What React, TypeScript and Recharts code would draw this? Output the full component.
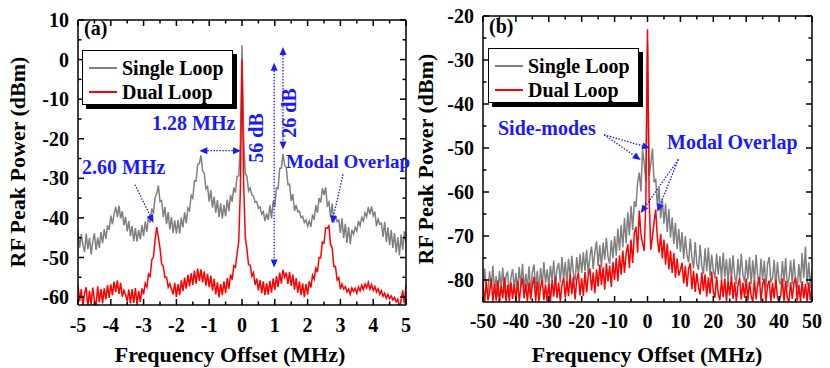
import { LineChart, Line, XAxis, YAxis, Legend, ReferenceLine } from 'recharts';

const SERIF = '"Liberation Serif", "Times New Roman", serif';
const BLUE = '#1a1aff';
const GREY = '#808080';
const RED = '#ff0000';

// ---- panel (a): offset -5..5 MHz ----
const freqA = [
  -5, -4.95, -4.9, -4.85, -4.8, -4.75, -4.7, -4.65, -4.6, -4.55, -4.5, -4.45, -4.4, -4.35, -4.3, -4.25, -4.2, -4.15, -4.1, -4.05,
  -4, -3.95, -3.9, -3.85, -3.8, -3.75, -3.7, -3.65, -3.6, -3.55, -3.5, -3.45, -3.4, -3.35, -3.3, -3.25, -3.2, -3.15, -3.1, -3.05,
  -3, -2.95, -2.9, -2.85, -2.8, -2.75, -2.7, -2.65, -2.6, -2.55, -2.5, -2.45, -2.4, -2.35, -2.3, -2.25, -2.2, -2.15, -2.1, -2.05,
  -2, -1.95, -1.9, -1.85, -1.8, -1.75, -1.7, -1.65, -1.6, -1.55, -1.5, -1.45, -1.4, -1.35, -1.3, -1.25, -1.2, -1.15, -1.1, -1.05,
  -1, -0.95, -0.9, -0.85, -0.8, -0.75, -0.7, -0.65, -0.6, -0.55, -0.5, -0.45, -0.4, -0.35, -0.3, -0.25, -0.2, -0.15, -0.1, -0.05,
  0,
  0.05, 0.1, 0.15, 0.2, 0.25, 0.3, 0.35, 0.4, 0.45, 0.5, 0.55, 0.6, 0.65, 0.7, 0.75, 0.8, 0.85, 0.9, 0.95, 1,
  1.05, 1.1, 1.15, 1.2, 1.25, 1.3, 1.35, 1.4, 1.45, 1.5, 1.55, 1.6, 1.65, 1.7, 1.75, 1.8, 1.85, 1.9, 1.95, 2,
  2.05, 2.1, 2.15, 2.2, 2.25, 2.3, 2.35, 2.4, 2.45, 2.5, 2.55, 2.6, 2.65, 2.7, 2.75, 2.8, 2.85, 2.9, 2.95, 3,
  3.05, 3.1, 3.15, 3.2, 3.25, 3.3, 3.35, 3.4, 3.45, 3.5, 3.55, 3.6, 3.65, 3.7, 3.75, 3.8, 3.85, 3.9, 3.95, 4,
  4.05, 4.1, 4.15, 4.2, 4.25, 4.3, 4.35, 4.4, 4.45, 4.5, 4.55, 4.6, 4.65, 4.7, 4.75, 4.8, 4.85, 4.9, 4.95, 5,
];

const singleA = [
  -43.2, -47.5, -44.1, -46.8, -48.6, -44.0, -47.9, -45.1, -49.2, -46.0, -43.9, -48.1, -45.0, -47.6, -43.6, -46.4, -42.8, -45.3, -41.9, -43.0,
  -39.4, -41.6, -38.9, -37.2, -39.8, -36.9, -40.1, -38.3, -41.9, -39.7, -43.4, -40.8, -44.6, -42.0, -45.9, -42.6, -46.0, -43.1, -45.4, -41.8,
  -44.6, -40.9, -43.5, -39.6, -41.2, -37.6, -38.9, -34.8, -33.9, -31.8, -35.9, -35.6, -39.8, -37.2, -41.6, -38.5, -42.9, -39.8, -43.8, -40.6,
  -44.0, -40.5, -43.9, -39.9, -42.4, -38.6, -41.3, -37.5, -38.2, -34.3, -35.0, -30.6, -30.7, -26.4, -26.3, -24.2, -28.1, -28.7, -32.6, -32.1,
  -35.9, -33.0, -37.4, -34.6, -38.7, -35.5, -39.8, -36.3, -40.2, -36.7, -39.6, -35.4, -38.3, -34.2, -35.9, -32.3, -33.6, -29.5, -29.4, -21.0,
  3.6,
  -19.8, -28.9, -29.5, -33.2, -32.4, -34.1, -34.5, -36.0, -35.9, -37.6, -37.2, -39.0, -38.4, -40.8, -38.9, -40.5, -36.8, -40.1, -35.7, -37.2,
  -32.4, -32.6, -27.5, -27.4, -23.8, -26.8, -27.2, -31.6, -31.5, -35.7, -34.0, -38.2, -36.7, -38.5, -38.3, -39.9, -39.6, -41.2, -40.5, -42.1,
  -40.8, -42.3, -39.1, -40.5, -36.8, -38.7, -35.0, -36.1, -32.5, -34.2, -32.3, -36.9, -36.0, -39.8, -36.4, -41.2, -39.4, -40.9, -40.5, -43.8,
  -40.1, -45.1, -41.5, -46.3, -42.3, -46.6, -43.0, -44.1, -42.4, -43.3, -40.8, -42.0, -39.9, -40.8, -38.7, -39.7, -37.3, -39.1, -37.1, -39.5,
  -38.4, -42.1, -40.3, -41.6, -41.4, -44.8, -41.0, -46.1, -42.4, -46.9, -43.1, -47.6, -43.8, -48.7, -44.9, -49.5, -44.2, -48.0, -43.4, -46.5,
];

const dualA = [
  -56.9, -61.1, -58.0, -62.3, -59.0, -57.5, -62.6, -58.4, -61.9, -57.6, -60.8, -62.2, -57.3, -61.3, -58.0, -61.6, -57.8, -60.6, -57.0, -60.2,
  -56.8, -59.5, -56.1, -58.7, -55.8, -59.2, -56.4, -59.9, -58.3, -59.4, -61.0, -58.1, -61.6, -58.0, -61.5, -57.7, -61.9, -58.4, -61.2, -57.8,
  -59.3, -56.5, -57.5, -54.2, -54.8, -50.6, -49.9, -45.6, -42.3, -44.9, -47.6, -51.6, -52.3, -55.0, -55.0, -57.5, -56.6, -58.0, -59.3, -56.4,
  -60.0, -56.7, -59.5, -55.8, -58.5, -55.1, -57.9, -54.4, -57.3, -54.0, -56.9, -53.3, -56.6, -52.8, -55.9, -53.0, -56.3, -53.5, -57.1, -54.1,
  -57.5, -54.6, -58.4, -55.4, -59.3, -56.3, -60.0, -56.7, -59.5, -56.0, -59.0, -55.2, -57.9, -54.3, -55.6, -52.1, -52.5, -48.9, -46.0, -33.0,
  0,
  -31.5, -44.8, -47.9, -51.8, -51.9, -54.7, -53.8, -56.9, -55.3, -58.3, -55.7, -59.0, -56.0, -59.5, -56.5, -59.4, -55.9, -58.9, -55.3, -58.2,
  -54.7, -57.5, -53.8, -56.6, -53.1, -55.0, -53.8, -56.7, -53.6, -57.2, -54.3, -58.1, -55.2, -58.9, -56.0, -59.5, -56.5, -60.0, -56.7, -59.4,
  -56.0, -57.6, -54.5, -55.5, -52.7, -53.7, -50.0, -50.1, -46.1, -46.4, -42.5, -42.6, -42.0, -46.7, -47.6, -52.3, -52.3, -55.7, -55.1, -58.0,
  -56.7, -58.0, -57.4, -58.7, -58.0, -59.3, -57.7, -58.6, -57.8, -59.0, -57.5, -58.4, -57.0, -58.1, -56.7, -57.7, -56.3, -58.0, -56.8, -58.3,
  -57.3, -58.7, -57.9, -59.3, -58.4, -59.8, -59.0, -60.3, -59.3, -60.4, -59.7, -60.7, -60.1, -61.2, -60.5, -62.7, -60.8, -58.3, -61.6, -57.1,
];

// ---- panel (b): offset -50..50 MHz ----
const freqB = [
  -50, -49.5, -49, -48.5, -48, -47.5, -47, -46.5, -46, -45.5, -45, -44.5, -44, -43.5, -43, -42.5, -42, -41.5, -41, -40.5,
  -40, -39.5, -39, -38.5, -38, -37.5, -37, -36.5, -36, -35.5, -35, -34.5, -34, -33.5, -33, -32.5, -32, -31.5, -31, -30.5,
  -30, -29.5, -29, -28.5, -28, -27.5, -27, -26.5, -26, -25.5, -25, -24.5, -24, -23.5, -23, -22.5, -22, -21.5, -21, -20.5,
  -20, -19.5, -19, -18.5, -18, -17.5, -17, -16.5, -16, -15.5, -15, -14.5, -14, -13.5, -13, -12.5, -12, -11.5, -11, -10.5,
  -10, -9.5, -9, -8.5, -8, -7.5, -7, -6.5, -6, -5.5, -5, -4.5, -4, -3.5, -3, -2.5, -2, -1.5, -1, -0.5,
  0,
  0.5, 1, 1.5, 2, 2.5, 3, 3.5, 4, 4.5, 5, 5.5, 6, 6.5, 7, 7.5, 8, 8.5, 9, 9.5, 10,
  10.5, 11, 11.5, 12, 12.5, 13, 13.5, 14, 14.5, 15, 15.5, 16, 16.5, 17, 17.5, 18, 18.5, 19, 19.5, 20,
  20.5, 21, 21.5, 22, 22.5, 23, 23.5, 24, 24.5, 25, 25.5, 26, 26.5, 27, 27.5, 28, 28.5, 29, 29.5, 30,
  30.5, 31, 31.5, 32, 32.5, 33, 33.5, 34, 34.5, 35, 35.5, 36, 36.5, 37, 37.5, 38, 38.5, 39, 39.5, 40,
  40.5, 41, 41.5, 42, 42.5, 43, 43.5, 44, 44.5, 45, 45.5, 46, 46.5, 47, 47.5, 48, 48.5, 49, 49.5, 50,
];

const singleB = [
  -82.6, -77.4, -81.5, -83.2, -78.0, -81.9, -76.8, -82.7, -79.1, -83.8, -77.9, -81.8, -77.2, -83.0, -79.0, -78.1, -83.5, -79.4, -77.5, -82.1,
  -78.4, -82.5, -77.0, -81.4, -76.3, -82.3, -78.6, -81.7, -76.9, -83.1, -78.2, -76.5, -82.0, -77.9, -82.5, -77.3, -81.2, -75.9, -80.8, -77.6,
  -81.5, -76.8, -80.2, -75.6, -81.3, -77.4, -76.1, -80.6, -74.8, -79.9, -75.9, -81.0, -75.2, -79.4, -74.5, -78.7, -80.1, -74.8, -79.0, -74.1,
  -78.4, -73.7, -78.0, -73.2, -78.7, -74.6, -72.4, -77.5, -73.6, -71.2, -76.8, -72.1, -77.2, -71.5, -75.4, -70.4, -74.8, -76.3, -71.0, -75.1,
  -70.0, -74.5, -68.3, -73.3, -67.5, -72.6, -65.9, -71.7, -64.6, -69.9, -63.2, -68.6, -62.1, -63.4, -57.8, -55.6, -59.9, -50.3, -53.5, -57.6,
  -26.0,
  -56.4, -53.6, -50.1, -57.8, -57.0, -63.2, -59.0, -66.0, -61.5, -67.2, -62.6, -69.1, -63.8, -70.4, -65.8, -71.8, -67.0, -73.0, -68.4, -73.6,
  -69.1, -75.2, -70.0, -74.3, -76.0, -70.6, -75.0, -77.3, -71.4, -76.4, -77.7, -72.0, -76.8, -78.6, -72.8, -78.0, -72.6, -79.0, -74.2, -77.8,
  -79.6, -74.0, -78.8, -74.6, -80.0, -73.8, -79.3, -75.3, -80.7, -75.0, -79.8, -74.4, -79.0, -80.9, -75.2, -79.5, -74.1, -78.7, -80.5, -75.4,
  -79.9, -74.7, -81.0, -75.5, -80.3, -74.3, -79.2, -81.4, -75.1, -80.0, -75.6, -81.7, -76.3, -74.8, -80.6, -79.5, -75.4, -81.9, -75.9, -80.2,
  -81.1, -75.7, -80.4, -75.0, -81.6, -79.8, -75.5, -80.9, -75.3, -80.1, -82.0, -76.4, -80.7, -73.9, -79.6, -72.4, -81.1, -76.0, -81.8, -77.5,
];

const dualB = [
  -81.0, -85.0, -80.3, -84.6, -82.8, -79.6, -84.9, -81.0, -84.7, -80.1, -84.9, -81.3, -84.2, -79.4, -84.9, -81.1, -84.9, -80.5, -84.3, -81.0,
  -84.6, -80.2, -84.9, -81.4, -79.5, -84.2, -80.8, -84.9, -80.6, -84.4, -81.2, -79.3, -84.8, -80.4, -84.9, -81.6, -79.9, -84.6, -81.0, -84.9,
  -80.8, -84.9, -80.0, -83.8, -79.2, -84.1, -80.6, -84.9, -81.1, -79.5, -84.0, -80.2, -83.7, -78.6, -83.2, -79.3, -84.4, -79.8, -78.5, -83.5,
  -79.6, -83.6, -78.2, -82.8, -78.9, -77.4, -82.4, -78.3, -83.0, -77.6, -81.5, -76.5, -81.1, -77.1, -82.2, -76.2, -80.3, -76.7, -81.6, -75.9,
  -80.0, -75.0, -80.3, -74.4, -78.8, -73.3, -78.4, -74.0, -71.9, -77.3, -70.8, -76.1, -69.4, -67.9, -73.8, -64.2, -69.5, -71.7, -73.4, -62.0,
  -23.0,
  -61.5, -73.1, -70.2, -66.8, -64.0, -70.5, -73.8, -69.5, -75.1, -70.8, -76.5, -71.7, -77.6, -73.3, -78.4, -73.8, -79.5, -75.1, -79.0, -77.7,
  -76.1, -80.8, -76.8, -81.5, -77.5, -76.2, -82.1, -77.9, -82.7, -78.5, -81.6, -83.3, -78.3, -82.5, -78.7, -83.8, -79.4, -83.1, -78.1, -82.8,
  -84.0, -79.2, -83.2, -84.6, -79.9, -83.9, -79.6, -84.9, -80.3, -83.5, -79.1, -84.3, -80.5, -84.9, -81.2, -79.5, -84.5, -80.6, -84.1, -79.7,
  -84.7, -80.4, -83.6, -84.9, -80.0, -84.4, -80.8, -79.3, -84.8, -80.9, -79.7, -84.9, -81.3, -80.1, -84.9, -80.7, -84.2, -79.9, -84.0, -84.9,
  -83.5, -79.6, -84.9, -80.2, -84.1, -84.9, -80.5, -84.3, -80.7, -79.4, -84.7, -81.1, -84.9, -80.3, -84.2, -80.9, -84.9, -80.6, -84.6, -81.3,
];

const ticksXA = [-5, -4.5, -4, -3.5, -3, -2.5, -2, -1.5, -1, -0.5, 0, 0.5, 1, 1.5, 2, 2.5, 3, 3.5, 4, 4.5, 5];
const ticksYA = [-60, -55, -50, -45, -40, -35, -30, -25, -20, -15, -10, -5, 0, 5, 10];
const ticksXB = [-50, -45, -40, -35, -30, -25, -20, -15, -10, -5, 0, 5, 10, 15, 20, 25, 30, 35, 40, 45, 50];
const ticksYB = [-80, -75, -70, -65, -60, -55, -50, -45, -40, -35, -30, -25, -20];

const seriesNames = ['Single Loop', 'Dual Loop'];

// annotation arrows, in data units
const arrowsA = [
  { from: { x: -1.3, y: -23 }, to: { x: -0.03, y: -23 }, both: true },
  { from: { x: -3.26, y: -31.6 }, to: { x: -2.7, y: -41.2 }, both: false },
  { from: { x: 0.98, y: -0.8 }, to: { x: 0.98, y: -52.5 }, both: true },
  { from: { x: 1.25, y: 3.2 }, to: { x: 1.25, y: -22.7 }, both: true },
  { from: { x: 3.08, y: -29 }, to: { x: 2.74, y: -41.4 }, both: false },
];
const arrowsB = [
  { from: { x: -13.2, y: -47 }, to: { x: 0.76, y: -50 }, both: false },
  { from: { x: -13.2, y: -47 }, to: { x: -2.07, y: -52.7 }, both: false },
  { from: { x: 9.37, y: -52.6 }, to: { x: -2.07, y: -64.8 }, both: false },
  { from: { x: 9.37, y: -52.6 }, to: { x: 2.98, y: -64.5 }, both: false },
];

const labelStyle = { fontFamily: SERIF, fontWeight: 'bold' as const, fontSize: 20, fill: '#000' };
const frame = { stroke: '#000', strokeWidth: 1.5 };

type Side = 'bottom' | 'left' | 'top' | 'right';

function axisTick(side: Side, isMajor: (v: number) => boolean, gap = 27) {
  return (props: any) => {
    const { x, y, payload } = props;
    const v = payload.value;
    const major = isMajor(v);
    const len = major ? 6 : 3.5;
    let line;
    if (side === 'bottom') line = <line x1={x} y1={y} x2={x} y2={y - len} />;
    else if (side === 'top') line = <line x1={x} y1={y} x2={x} y2={y + len} />;
    else if (side === 'left') line = <line x1={x} y1={y} x2={x + len} y2={y} />;
    else line = <line x1={x} y1={y} x2={x - len} y2={y} />;
    return (
      <g>
        <g stroke="#000" strokeWidth={1.5}>{line}</g>
        {major && side === 'bottom' && (
          <text x={x} y={y + gap} textAnchor="middle" style={labelStyle}>{v}</text>
        )}
        {major && side === 'left' && (
          <text x={x - 9} y={y + 7} textAnchor="end" style={labelStyle}>{v}</text>
        )}
      </g>
    );
  };
}

function arrowShape(both: boolean) {
  return (p: any) => {
    const { x1, y1, x2, y2 } = p;
    const dx = x2 - x1;
    const dy = y2 - y1;
    const L = Math.hypot(dx, dy) || 1;
    const ux = dx / L;
    const uy = dy / L;
    const hl = 8;
    const hw = 3.5;
    const head = (tx: number, ty: number, sx: number, sy: number) => {
      const bx = tx - sx * hl;
      const by = ty - sy * hl;
      return `${tx},${ty} ${bx - sy * hw},${by + sx * hw} ${bx + sy * hw},${by - sx * hw}`;
    };
    return (
      <g>
        <line
          x1={both ? x1 + ux * hl : x1}
          y1={both ? y1 + uy * hl : y1}
          x2={x2 - ux * hl}
          y2={y2 - uy * hl}
          stroke={BLUE}
          strokeWidth={1.3}
          strokeDasharray="1.5 1.5"
        />
        <polygon points={head(x2, y2, ux, uy)} fill={BLUE} />
        {both && <polygon points={head(x1, y1, -ux, -uy)} fill={BLUE} />}
      </g>
    );
  };
}

const LegendBox = (props: any) => {
  const items = [...(props.payload || [])].sort(
    (a: any, b: any) => seriesNames.indexOf(a.value) - seriesNames.indexOf(b.value)
  );
  return (
    <div
      style={{
        position: 'relative',
        width: 151,
        height: 55,
        boxSizing: 'border-box',
        border: '1.5px solid #000',
        background: '#fff',
        boxShadow: '4px 4px 0 #000',
        fontFamily: SERIF,
        fontWeight: 'bold',
        fontSize: 20,
        color: '#000',
      }}
    >
      {items.map((it: any, i: number) => (
        <div
          key={it.value}
          style={{ position: 'absolute', left: 0, top: 5 + i * 24, height: 24, display: 'flex', alignItems: 'center', whiteSpace: 'nowrap' }}
        >
          <span style={{ display: 'inline-block', marginLeft: 6, width: 28, height: 1.5, background: it.color }} />
          <span style={{ marginLeft: 5, lineHeight: '24px' }}>{it.value}</span>
        </div>
      ))}
    </div>
  );
};

interface PanelProps {
  freq: number[];
  single: number[];
  dual: number[];
  xDomain: [number, number];
  yDomain: [number, number];
  xTicks: number[];
  yTicks: number[];
  xMajor: (v: number) => boolean;
  arrows: { from: { x: number; y: number }; to: { x: number; y: number }; both: boolean }[];
  margin: { top: number; right: number; left: number; bottom: number };
  yWidth: number;
  xHeight: number;
  gap: number;
  legendPos: { left: number; top: number };
}

function Panel(p: PanelProps) {
  const data = p.freq.map((f, i) => ({ f, single: p.single[i], dual: p.dual[i] }));
  const yMajor = (v: number) => v % 10 === 0;
  return (
    <LineChart width={415} height={368} data={data} margin={p.margin}>
      <XAxis
        dataKey="f"
        type="number"
        domain={p.xDomain}
        ticks={p.xTicks}
        interval={0}
        allowDataOverflow
        height={p.xHeight}
        tickSize={0}
        tickMargin={0}
        tickLine={false}
        axisLine={frame}
        tick={axisTick('bottom', p.xMajor, p.gap)}
      />
      <XAxis
        xAxisId="top"
        orientation="top"
        dataKey="f"
        type="number"
        domain={p.xDomain}
        ticks={p.xTicks}
        interval={0}
        allowDataOverflow
        height={1}
        tickSize={0}
        tickMargin={0}
        tickLine={false}
        axisLine={frame}
        tick={axisTick('top', p.xMajor)}
      />
      <YAxis
        type="number"
        domain={p.yDomain}
        ticks={p.yTicks}
        interval={0}
        allowDataOverflow
        width={p.yWidth}
        tickSize={0}
        tickMargin={0}
        tickLine={false}
        axisLine={frame}
        tick={axisTick('left', yMajor)}
      />
      <YAxis
        yAxisId="right"
        orientation="right"
        type="number"
        domain={p.yDomain}
        ticks={p.yTicks}
        interval={0}
        allowDataOverflow
        width={1}
        tickSize={0}
        tickMargin={0}
        tickLine={false}
        axisLine={frame}
        tick={axisTick('right', yMajor)}
      />
      <Line
        dataKey="single"
        name={seriesNames[0]}
        stroke={GREY}
        strokeWidth={1.5}
        dot={false}
        activeDot={false}
        isAnimationActive={false}
      />
      <Line
        dataKey="dual"
        name={seriesNames[1]}
        stroke={RED}
        strokeWidth={1.5}
        dot={false}
        activeDot={false}
        isAnimationActive={false}
      />
      {p.arrows.map((a, i) => (
        <ReferenceLine
          key={i}
          segment={[a.from, a.to]}
          ifOverflow="visible"
          shape={arrowShape(a.both)}
        />
      ))}
      <Legend
        content={LegendBox}
        layout="horizontal"
        verticalAlign="middle"
        align="center"
        wrapperStyle={{ left: p.legendPos.left, top: p.legendPos.top, width: 'auto' }}
      />
    </LineChart>
  );
}

const blueText = { fontFamily: SERIF, fontWeight: 'bold' as const, fontSize: 20, fill: BLUE };
const blackText = { fontFamily: SERIF, fontWeight: 'bold' as const, fontSize: 20, fill: '#000' };
const titleText = { fontFamily: SERIF, fontWeight: 'bold' as const, fontSize: 22, fill: '#000' };

export default function App() {
  return (
    <div style={{ position: 'absolute', left: 0, top: 0, width: 830, height: 368, background: '#fff', overflow: 'hidden' }}>
      <div style={{ position: 'absolute', left: 0, top: 0 }}>
        <Panel
          freq={freqA}
          single={singleA}
          dual={dualA}
          xDomain={[-5, 5]}
          yDomain={[-62, 10]}
          xTicks={ticksXA}
          yTicks={ticksYA}
          xMajor={(v) => Number.isInteger(v)}
          arrows={arrowsA}
          margin={{ top: 19, right: 8, left: 18, bottom: 0 }}
          yWidth={60}
          xHeight={63}
          gap={27}
          legendPos={{ left: 82, top: 50 }}
        />
      </div>
      <div style={{ position: 'absolute', left: 415, top: 0 }}>
        <Panel
          freq={freqB}
          single={singleB}
          dual={dualB}
          xDomain={[-50, 50]}
          yDomain={[-85, -20]}
          xTicks={ticksXB}
          yTicks={ticksYB}
          xMajor={(v) => v % 10 === 0}
          arrows={arrowsB}
          margin={{ top: 15, right: 17, left: 8, bottom: 0 }}
          yWidth={60}
          xHeight={66}
          gap={26}
          legendPos={{ left: 73, top: 48 }}
        />
      </div>
      <svg width={830} height={368} style={{ position: 'absolute', left: 0, top: 0, pointerEvents: 'none' }}>
        {/* panel (a) */}
        <text x={84} y={35} style={blackText}>(a)</text>
        <text x={17} y={162} textAnchor="middle" dominantBaseline="central" transform="rotate(-90 17 162)" style={titleText}>
          RF Peak Power (dBm)
        </text>
        <text x={230} y={362} textAnchor="middle" style={titleText}>Frequency Offset (MHz)</text>
        <text x={152} y={130} style={blueText}>1.28 MHz</text>
        <text x={82} y={174} style={blueText}>2.60 MHz</text>
        <text x={256} y={138} textAnchor="middle" dominantBaseline="central" transform="rotate(-90 256 138)" style={blueText}>56 dB</text>
        <text x={289} y={113} textAnchor="middle" dominantBaseline="central" transform="rotate(-90 289 113)" style={blueText}>26 dB</text>
        <text x={286} y={168} style={{ ...blueText, fontSize: 19 }}>Modal Overlap</text>
        {/* panel (b) */}
        <text x={489} y={33} style={blackText}>(b)</text>
        <text x={425} y={159} textAnchor="middle" dominantBaseline="central" transform="rotate(-90 425 159)" style={titleText}>
          RF Peak Power (dBm)
        </text>
        <text x={647} y={362} textAnchor="middle" style={titleText}>Frequency Offset (MHz)</text>
        <text x={498} y={135} style={blueText}>Side-modes</text>
        <text x={667} y={149} style={blueText}>Modal Overlap</text>
      </svg>
    </div>
  );
}
